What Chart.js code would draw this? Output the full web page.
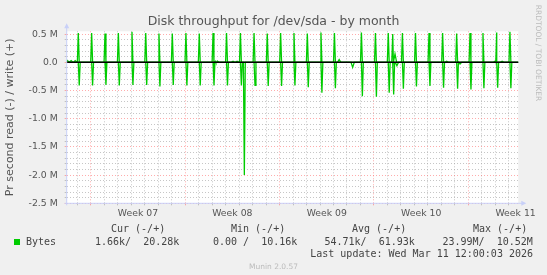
<!DOCTYPE html>
<html>
<head>
<meta charset="utf-8">
<script src="https://cdn.jsdelivr.net/npm/chart.js@4.4.1/dist/chart.umd.min.js"></script>
<style>
html, body { margin: 0; padding: 0; background: #F0F0F0; }
#wrap { width: 547px; height: 275px; }
</style>
</head>
<body>
<div id="wrap"><canvas id="diskMonth" width="547" height="275"></canvas></div>
<script>
// x = days since Monday of week 07, y = million bytes per second
var writeDays = [-0.92, 0.07, 1.06, 2.05, 3.06, 4.08, 5.06, 6.05, 7.06, 8.05, 9.07, 10.07, 11.10, 12.11, 13.09, 14.08, 15.07, 16.06, 17.07, 18.07, 20.07, 21.11, 22.06, 22.39, 23.11, 24.08, 25.08, 26.09, 27.13, 28.12, 29.08, 30.10, 31.08];
var writePeaks = [0.52, 0.52, 0.51, 0.52, 0.54, 0.52, 0.51, 0.51, 0.52, 0.51, 0.52, 0.52, 0.52, 0.52, 0.51, 0.52, 0.52, 0.51, 0.53, 0.52, 0.53, 0.52, 0.52, 0.50, 0.52, 0.52, 0.52, 0.52, 0.51, 0.52, 0.52, 0.53, 0.54];

var readDays = [-0.85, 0.14, 1.13, 2.12, 3.13, 4.15, 5.13, 6.12, 7.13, 8.12, 9.14, 10.14, 11.17, 11.39, 12.18, 13.16, 14.15, 15.14, 16.13, 17.14, 18.14, 20.14, 21.18, 22.13, 22.46, 23.18, 24.15, 25.15, 26.16, 27.20, 28.19, 29.15, 30.17, 31.15];
var readPeaks = [-0.41, -0.41, -0.40, -0.41, -0.40, -0.40, -0.43, -0.40, -0.41, -0.41, -0.41, -0.41, -0.41, -2.00, -0.41, -0.42, -0.42, -0.41, -0.44, -0.54, -0.46, -0.60, -0.61, -0.54, -0.57, -0.47, -0.43, -0.42, -0.45, -0.47, -0.48, -0.46, -0.45, -0.46];

// small blips near the zero line
var writeMinorDays = [-1.72, -1.45, -1.15, 9.25, 9.40, 10.55, 10.85, 18.42, 22.56, 26.39, 29.98, 30.50];
var writeMinorVals = [0.03, 0.03, 0.03, 0.02, 0.02, 0.02, 0.02, 0.05, 0.15, 0.02, 0.02, 0.02];
var readMinorDays = [19.42, 22.70, 27.38];
var readMinorVals = [-0.09, -0.06, -0.03];

var weekLabels = ['Week 07', 'Week 08', 'Week 09', 'Week 10', 'Week 11'];
var weekLabelDays = [3.5, 10.5, 17.5, 24.5, 31.5];
var yLabelValues = [0.5, 0, -0.5, -1, -1.5, -2, -2.5];
var yLabels = ['0.5 M', '0.0', '-0.5 M', '-1.0 M', '-1.5 M', '-2.0 M', '-2.5 M'];

var xMin = -1.78, xMax = 31.70;
var yMin = -2.5, yMax = 0.55;

var green = '#00CC00';
var majorGrid = 'rgba(255,90,90,0.5)';
var minorGrid = 'rgba(160,160,160,0.6)';
var axisBlue = '#C8D0F8';

function pulses(days, vals, half) {
  var pts = [];
  for (var i = 0; i < days.length; i++) {
    pts.push({x: days[i] - half, y: 0});
    pts.push({x: days[i], y: vals[i]});
    pts.push({x: days[i] + half, y: 0});
  }
  return pts;
}

function series(days, vals, mDays, mVals) {
  var pts = pulses(days, vals, 0.07).concat(pulses(mDays, mVals, 0.12));
  pts.push({x: xMin, y: 0}, {x: xMax, y: 0});
  pts.sort(function(a, b) { return a.x - b.x; });
  return pts;
}

// ticks: one per day (grid) plus the week label positions
var xTicks = [];
for (var d = -1; d <= 31; d++) xTicks.push(d);
xTicks = xTicks.concat(weekLabelDays);
var yTicks = [];
for (var k = -25; k <= 5; k++) yTicks.push(k / 10);

function isLabelDay(v) { return weekLabelDays.indexOf(v) >= 0; }

var decor = {
  id: 'decor',
  beforeDraw: function(chart) {
    var c = chart.ctx, a = chart.chartArea;
    c.save();
    c.fillStyle = '#F0F0F0';
    c.fillRect(0, 0, chart.width, chart.height);
    c.fillStyle = '#FFFFFF';
    c.fillRect(a.left, a.top, a.right - a.left, a.bottom - a.top);
    c.restore();
  },
  afterDatasetsDraw: function(chart) {
    var c = chart.ctx, a = chart.chartArea;
    var y0 = chart.scales.y.getPixelForValue(0);
    c.save();
    c.strokeStyle = '#000000';
    c.lineWidth = 1.6;
    c.beginPath();
    c.moveTo(a.left, y0);
    c.lineTo(a.right, y0);
    c.stroke();

    // axes with arrows
    c.strokeStyle = axisBlue;
    c.fillStyle = axisBlue;
    c.lineWidth = 1;
    c.beginPath();
    c.moveTo(a.left, a.bottom + 2);
    c.lineTo(a.left, a.top - 4);
    c.moveTo(a.left - 2, a.bottom);
    c.lineTo(a.right + 4, a.bottom);
    c.stroke();
    c.beginPath();
    c.moveTo(a.left, a.top - 8);
    c.lineTo(a.left - 2.5, a.top - 3);
    c.lineTo(a.left + 2.5, a.top - 3);
    c.closePath();
    c.fill();
    c.beginPath();
    c.moveTo(a.right + 8, a.bottom);
    c.lineTo(a.right + 3, a.bottom - 2.5);
    c.lineTo(a.right + 3, a.bottom + 2.5);
    c.closePath();
    c.fill();
    c.restore();
  },
  afterDraw: function(chart) {
    var c = chart.ctx;
    c.save();
    c.fillStyle = '#555555';
    c.font = '12.5px "DejaVu Sans"';
    c.textAlign = 'center';
    c.textBaseline = 'alphabetic';
    c.fillText('Disk throughput for /dev/sda - by month', 273.5, 24.8);

    c.font = '10px "DejaVu Sans Mono"';
    c.textAlign = 'left';
    c.textBaseline = 'middle';
    c.fillStyle = '#444444';
    c.fillText('Cur (-/+)', 111, 229);
    c.fillText('Min (-/+)', 231, 229);
    c.fillText('Avg (-/+)', 352, 229);
    c.fillText('Max (-/+)', 473, 229);
    c.fillText('Bytes', 26, 242);
    c.fillText('1.66k/  20.28k', 95, 242);
    c.fillText('0.00 /  10.16k', 213, 242);
    c.fillText('54.71k/  61.93k', 324.5, 242);
    c.fillText('23.99M/  10.52M', 442.5, 242);
    c.textAlign = 'right';
    c.fillText('Last update: Wed Mar 11 12:00:03 2026', 533, 254);

    c.fillStyle = green;
    c.fillRect(14, 239, 6, 6);

    c.fillStyle = '#BBBBBB';
    c.font = '7.5px "DejaVu Sans"';
    c.textAlign = 'center';
    c.fillText('Munin 2.0.57', 273.5, 267);
    c.translate(538, 53);
    c.rotate(Math.PI / 2);
    c.fillText('RRDTOOL / TOBI OETIKER', 0, 0);
    c.restore();
  }
};

var data = {
  datasets: [
    {
      label: 'write',
      data: series(writeDays, writePeaks, writeMinorDays, writeMinorVals),
      borderColor: green,
      borderWidth: 1.3,
      pointRadius: 0,
      tension: 0,
      fill: false
    },
    {
      label: 'read',
      data: series(readDays, readPeaks, readMinorDays, readMinorVals),
      borderColor: green,
      borderWidth: 1.3,
      pointRadius: 0,
      tension: 0,
      fill: false
    }
  ]
};

var options = {
  responsive: false,
  animation: false,
  devicePixelRatio: 1,
  layout: { padding: { left: 0, right: 28.7, top: 31.3, bottom: 0 } },
  plugins: { legend: { display: false }, title: { display: false }, tooltip: { enabled: false } },
  scales: {
    x: {
      type: 'linear',
      min: xMin,
      max: xMax,
      afterBuildTicks: function(s) { s.ticks = xTicks.map(function(v) { return {value: v}; }); },
      afterFit: function(s) { s.height = 71.7; },
      grid: {
        color: function(ctx) {
          var v = ctx.tick ? ctx.tick.value : 0;
          if (isLabelDay(v)) return 'rgba(0,0,0,0)';
          return v % 7 === 0 ? majorGrid : minorGrid;
        },
        lineWidth: 1,
        tickLength: 2
      },
      border: { display: false, dash: [1, 2] },
      ticks: {
        autoSkip: false,
        maxRotation: 0,
        padding: 3,
        color: '#555555',
        font: { family: 'DejaVu Sans', size: 9.3 },
        callback: function(v) {
          var i = weekLabelDays.indexOf(v);
          return i >= 0 ? weekLabels[i] : '';
        }
      }
    },
    y: {
      type: 'linear',
      min: yMin,
      max: yMax,
      afterBuildTicks: function(s) { s.ticks = yTicks.map(function(v) { return {value: v}; }); },
      afterFit: function(s) { s.width = 66.7; },
      grid: {
        color: function(ctx) {
          var v = ctx.tick ? Math.round(ctx.tick.value * 10) : 0;
          return v % 5 === 0 ? majorGrid : minorGrid;
        },
        lineWidth: 1,
        tickLength: 2
      },
      border: { display: false, dash: [1, 2] },
      title: {
        display: true,
        text: 'Pr second read (-) / write (+)',
        color: '#555555',
        font: { family: 'DejaVu Sans', size: 11 },
        padding: { top: 4, bottom: 0 }
      },
      ticks: {
        autoSkip: false,
        padding: 7,
        color: '#555555',
        font: { family: 'DejaVu Sans', size: 9.3 },
        callback: function(v) {
          for (var i = 0; i < yLabelValues.length; i++) {
            if (Math.abs(yLabelValues[i] - v) < 1e-6) return yLabels[i];
          }
          return '';
        }
      }
    }
  }
};

var chart = new Chart(document.getElementById('diskMonth'), {
  type: 'line',
  data: data,
  options: options,
  plugins: [decor]
});
</script>
</body>
</html>
